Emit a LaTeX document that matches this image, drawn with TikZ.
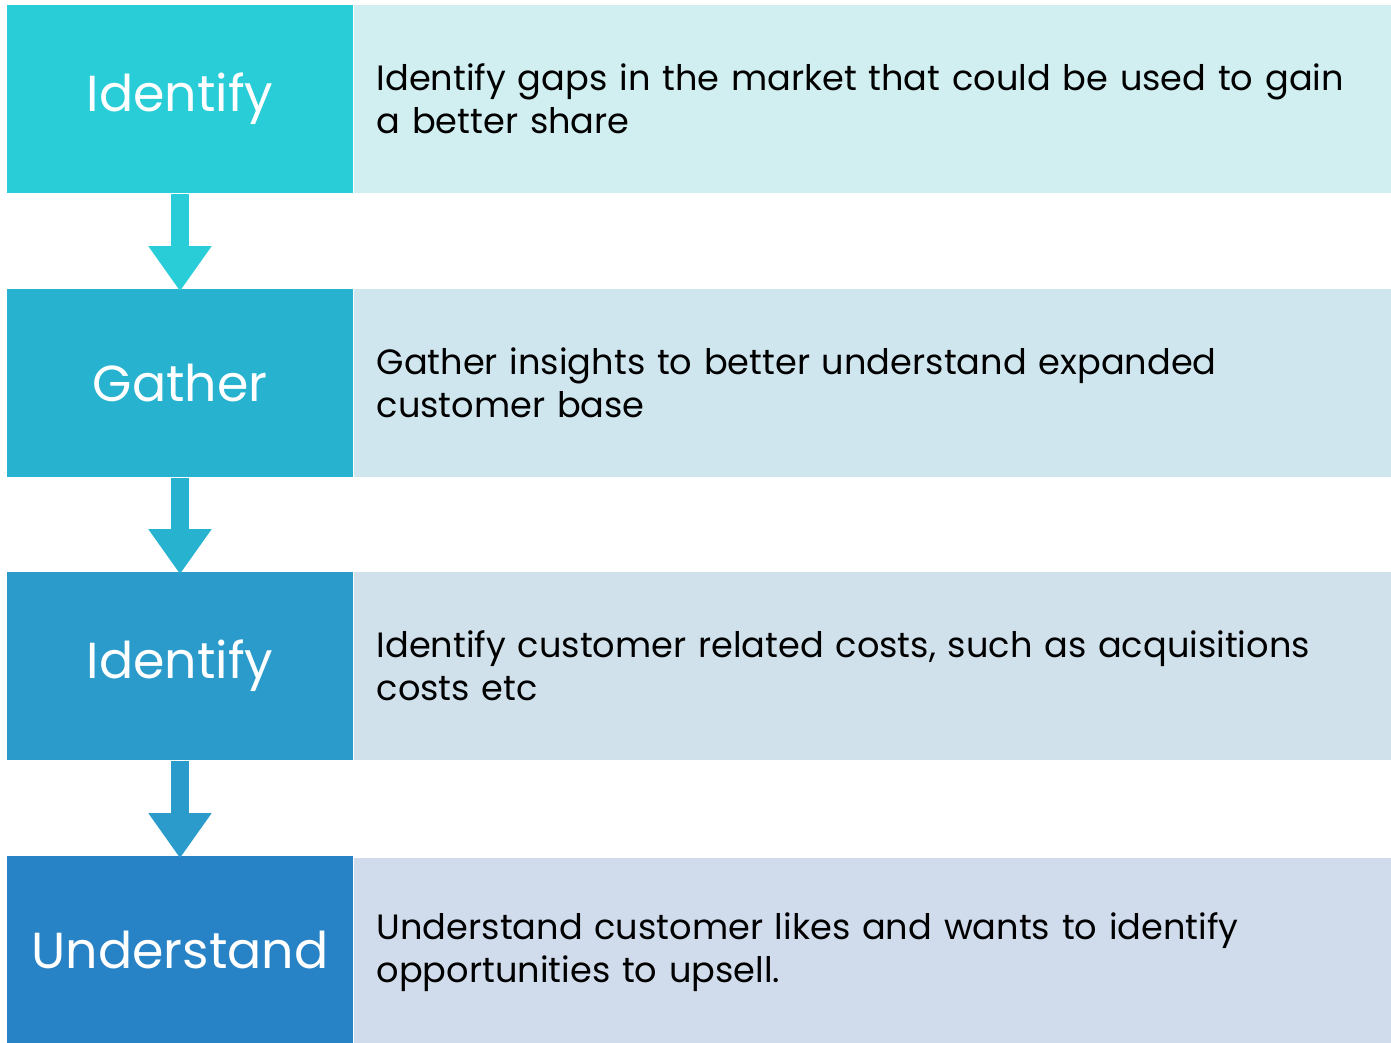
\documentclass[tikz,border=0pt]{standalone}
\usepackage{fontspec}
\setmainfont{Poppins}
\usepackage{xcolor}
\usetikzlibrary{positioning}
\usetikzlibrary{arrows.meta}

\definecolor{stepA}{HTML}{29CDD7}
\definecolor{stepB}{HTML}{27B2D0}
\definecolor{stepC}{HTML}{2A9BCB}
\definecolor{stepD}{HTML}{2783C6}
\definecolor{paleA}{HTML}{D1EEF1}
\definecolor{paleB}{HTML}{D0E6EE}
\definecolor{paleC}{HTML}{D0E1EC}
\definecolor{paleD}{HTML}{D0DCEC}

\tikzset{
    stepbox/.style={minimum width=3.46cm, minimum height=1.88cm, inner sep=0pt,
        text=white, font=\fontsize{14.4}{17}\selectfont},
    infobox/.style={anchor=west, minimum height=1.88cm, text width=9.93cm,
        inner xsep=0.23cm, inner ysep=0pt, align=left,
        font=\fontsize{10}{12.2}\selectfont},
    flow/.style={line width=0.176cm, -{Triangle[length=0.45cm, width=0.6cm]},
        shorten >=-0.03cm}
}

\begin{document}
\begin{tikzpicture}[x=0.01cm, y=-0.01cm]
    \useasboundingbox (0,0) rectangle (1391,1043);

    % Step labels on the left
    \node[stepbox, fill=stepA] (lab1) at (180,99) {Identify};
    \node[stepbox, fill=stepB] (lab2) at (180,383) {Gather};
    \node[stepbox, fill=stepC] (lab3) at (180,666) {Identify};
    \node[stepbox, fill=stepD] (lab4) at (180,950) {Understand};

    % Descriptions on the right
    \node[infobox, fill=paleA] (txt1) at (353,99)
        {Identify gaps in the market that could be used to gain\\a better share};
    \node[infobox, fill=paleB] (txt2) at (353,383)
        {Gather insights to better understand expanded\\customer base};
    \node[infobox, fill=paleC] (txt3) at (353,666)
        {Identify customer related costs, such as acquisitions\\costs etc};
    \node[infobox, fill=paleD] (txt4) at (353,952)
        {Understand customer likes and wants to identify\\opportunities to upsell.};

    % Arrows between steps
    \draw[flow, stepA] (lab1.south) -- (lab2.north);
    \draw[flow, stepB] (lab2.south) -- (lab3.north);
    \draw[flow, stepC] (lab3.south) -- (lab4.north);
\end{tikzpicture}
\end{document}
